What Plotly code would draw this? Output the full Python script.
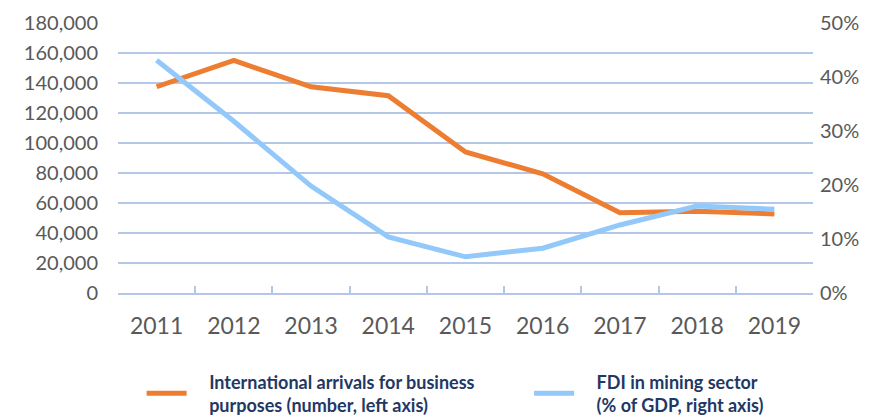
import plotly.graph_objects as go

years = ["2011", "2012", "2013", "2014", "2015", "2016", "2017", "2018", "2019"]
arrivals = [137500, 155000, 137500, 131500, 94000, 79500, 53500, 54500, 52700]
fdi_share = [0.431, 0.318, 0.198, 0.104, 0.067, 0.083, 0.126, 0.161, 0.155]

pad = "&nbsp;" * 4
name_arrivals = pad + "International arrivals for business<br>" + pad + "purposes (number, left axis)"
name_fdi = pad + "FDI in mining sector<br>" + pad + "(% of GDP, right axis)"

grid = "#B4C7E7"
tick_font = dict(family="Lato, Open Sans, sans-serif", size=20, color="#595959")
legend_font = dict(family="Lato, Open Sans, sans-serif", size=18, color="#1F3864", weight="bold")

fig = go.Figure()
fig.add_trace(go.Scatter(x=years, y=arrivals, name=name_arrivals, mode="lines",
                         line=dict(color="#ED7D31", width=5), yaxis="y", legend="legend"))
fig.add_trace(go.Scatter(x=years, y=fdi_share, name=name_fdi, mode="lines",
                         line=dict(color="#93C9FA", width=5), yaxis="y2", legend="legend2"))

fig.update_layout(
    width=868, height=409,
    margin=dict(l=110, r=63, t=15, b=124, autoexpand=False),
    paper_bgcolor="white", plot_bgcolor="white",
    xaxis=dict(type="category", range=[-0.5, 8.5], showline=True, linecolor=grid, linewidth=1.5,
               ticks="inside", ticklen=7, tickcolor=grid, tickwidth=1.5,
               tickson="boundaries", showgrid=False,
               tickfont=dict(family="Lato, Open Sans, sans-serif", size=23, color="#595959"),
               ticklabelstandoff=12),
    yaxis=dict(range=[0, 180000], dtick=20000, tickformat=",d", showgrid=True,
               gridcolor=grid, gridwidth=1.5, zeroline=False, tickfont=tick_font,
               ticklabelstandoff=19, showline=False),
    yaxis2=dict(range=[0, 0.5], dtick=0.1, tickformat=".0%", overlaying="y", side="right",
                showgrid=False, zeroline=False, tickfont=tick_font, ticklabelstandoff=6),
    legend=dict(x=0.034, xanchor="left", y=-0.372, yanchor="middle",
                font=legend_font, itemwidth=40, bgcolor="rgba(0,0,0,0)"),
    legend2=dict(x=0.5915, xanchor="left", y=-0.372, yanchor="middle",
                 font=legend_font, itemwidth=40, bgcolor="rgba(0,0,0,0)"),
    showlegend=True,
)

fig.write_html("out.html")
